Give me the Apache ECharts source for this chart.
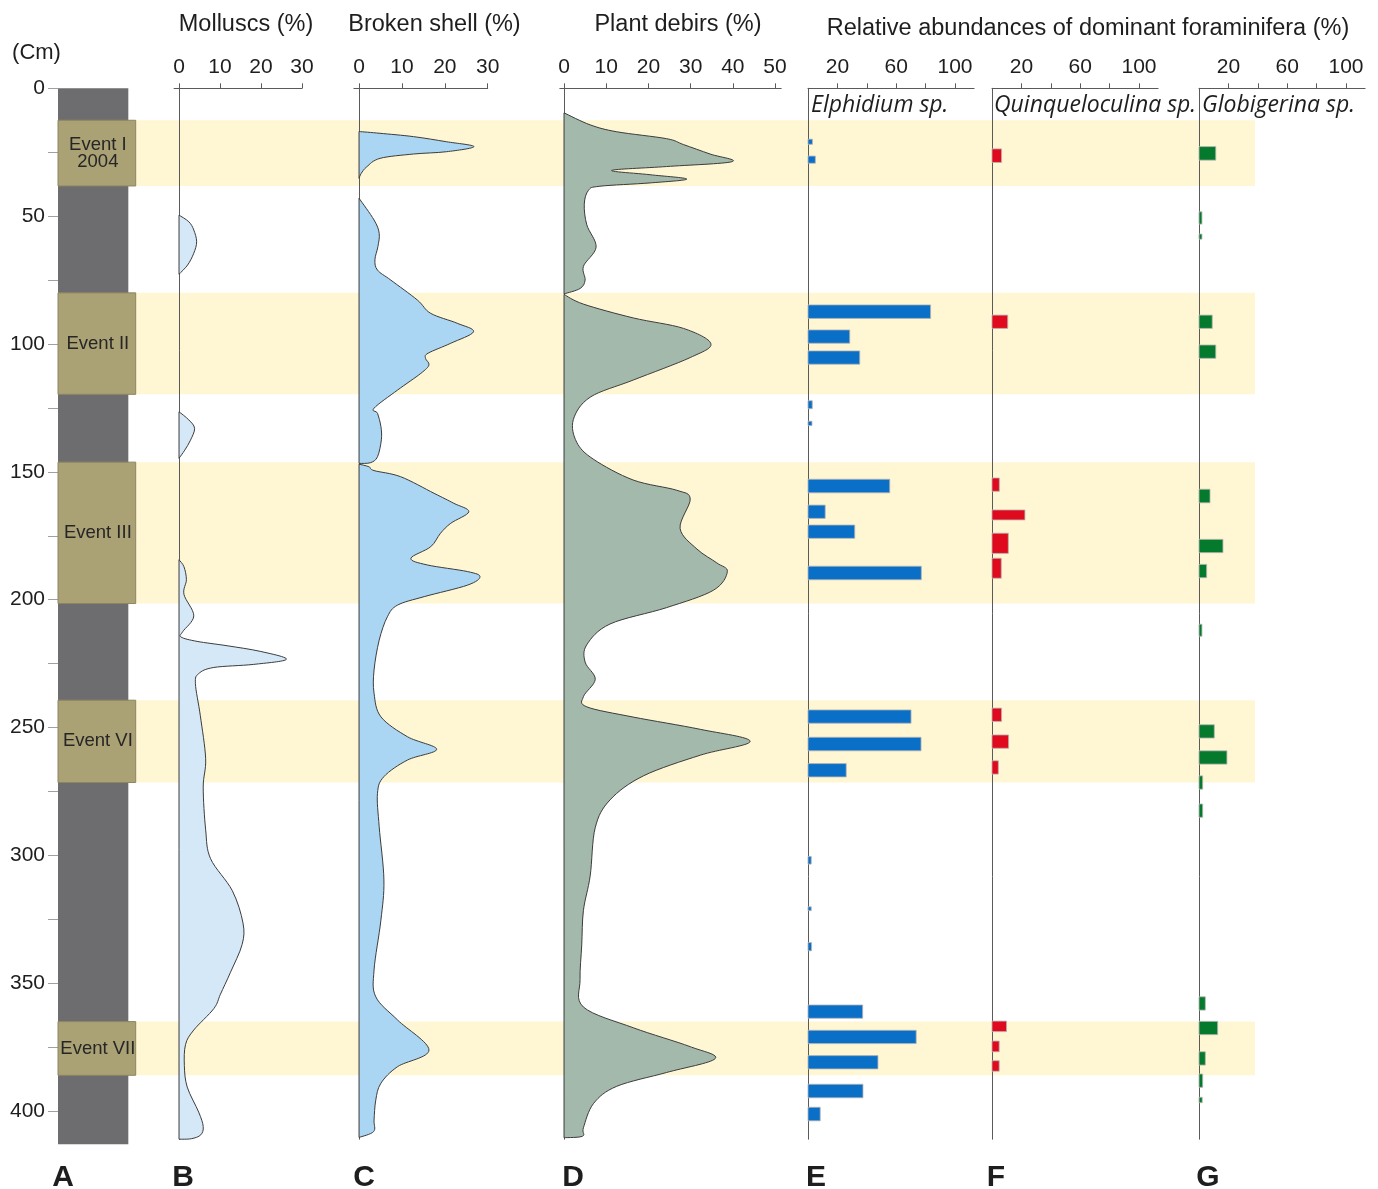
<!DOCTYPE html>
<html>
<head>
<meta charset="utf-8">
<script src="https://cdn.jsdelivr.net/npm/echarts@6/dist/echarts.min.js"></script>
<style>
  html, body { margin: 0; padding: 0; background: #fff; }
  #chart { width: 1378px; height: 1189px; }
</style>
</head>
<body>
<div id="chart"></div>
<script>
// ---- depth scale (cm) ----
const depthTicks = [0, 25, 50, 75, 100, 125, 150, 175, 200, 225, 250, 275, 300, 325, 350, 375, 400];
const depthLabels = [0, 50, 100, 150, 200, 250, 300, 350, 400];
const coreLength = 413;

// ---- event layers ----
const eventNames = ['Event I\n2004', 'Event II', 'Event III', 'Event VI', 'Event VII'];
const eventTop = [12.5, 80, 146.2, 239.3, 365];
const eventBottom = [38.2, 119.7, 201.5, 271.5, 386];

// ---- B: molluscs (%) profile, null separates lenses ----
const molluscsDepth = [
  49.6, 52.2, 55.4, 60, 64.5, 69.1, 72.7, null,
  126.5, 129.7, 133, 137.6, 141.5, 144.7, null,
  184.4, 187.1, 192.2, 197.9, 206.3, 212.5, 214.6, 216.3, 218, 220.2, 223.3, 225.3, 226.5, 228.9, 232.8,
  245.4, 262.2, 273.3, 290, 301.3, 313.8, 326.4, 334.8, 345.9, 354.3, 359.9, 368.3, 373.9, 382.2,
  390.6, 400.4, 406, 409.3, 410.8, 411
];
const molluscsValue = [
  0, 2.4, 3.6, 4.3, 3.6, 2.1, 0, null,
  0, 2.4, 3.8, 2.8, 1.4, 0, null,
  0, 1.2, 1.8, 1.2, 3.6, 0.9, 0.5, 4.4, 11.7, 19.8, 26.2, 18.2, 8.5, 4.8, 4.0,
  5.2, 6.5, 5.9, 6.5, 7.7, 13, 15.6, 15.4, 12.5, 10.1, 8.5, 3.6, 1.6, 1.3,
  2.0, 4.8, 5.9, 5.3, 3.0, 0
];

// ---- C: broken shell (%) ----
const brokenDepth = [
  16.9, 17.6, 18.9, 20.9, 22.8, 24.8, 25.7, 27.4, 30.7, 33.3, 35.2, null,
  43, 51.5, 56.7, 61.9, 67.1, 71.1, 75, 82.8, 88, 91.9, 95.2, 99.7, 103.6, 105.6, 108.2, 111.5, 118,
  125.1, 127.1, 132.3, 137.5, 144.1, 146.4, 146.7, null,
  147, 148, 149.5, 151.9, 158.4, 162.3, 165.6, 170.1, 174, 179.3, 183.8, 186.4, 189, 191, 194.3, 198.8,
  202.1, 206.7, 215.8, 227.5, 236.6, 245.8, 253.6, 258.5, 262.7, 269.2, 275.7, 288.8, 309.6, 325.3,
  344.8, 355.3, 364.4, 376.1, 382.6, 389.1, 395.7, 403.5, 408, 410.3
];
const brokenValue = [
  0, 4.9, 12.7, 20.4, 26.8, 20.4, 12.7, 4.9, 1.8, 0.5, 0, null,
  0, 3.5, 4.7, 4.4, 3.7, 4.3, 7.4, 13.6, 16.7, 22.9, 26.7, 21.4, 16.1, 15.5, 16.3, 14.4, 9,
  3.5, 4.3, 5.1, 5.2, 4.3, 2.7, 0, null,
  0, 2.3, 3.5, 9.7, 17.5, 22.1, 25.6, 21.4, 19, 16.7, 12.1, 15.9, 25.3, 28.2, 25.3, 15.2,
  9, 6.6, 4.7, 3.5, 3.5, 5.1, 11.3, 18.1, 11.3, 5.8, 4.3, 4.7, 5.8, 5.1,
  3.5, 3.9, 9, 16.3, 9, 5.1, 3.9, 3.5, 3.4, 0
];

// ---- D: plant debris (%) ----
const plantDepth = [
  9.6, 14.3, 17, 19.7, 22, 25.7, 28.7, 30.6, 32.1, 33.8, 35.5, 37, 38.3, 39.9, 45.3, 53.4, 62.1,
  69.6, 75, 78.3, 80.4, null,
  80.6, 84.4, 89.8, 93.9, 99.9, 105.3, 114.1, 120.8, 129.6, 138.4, 145.1, 153.2, 157.2, 160.6,
  172.1, 180.2, 185.6, 189, 196.3, 203.1, 209.5, 217.6, 224.4, 231.1, 237.9, 241.9, 245.9, 250.7,
  255.4, 260.8, 268.9, 278.3, 289.1, 308, 321.5, 335, 348.5, 359.3, 367.4, 374.8, 379.5, 384.9,
  390.3, 397, 406.5, 409.8, 410.4
];
const plantValue = [
  0, 6.2, 12.5, 24.3, 28.3, 34.6, 39.8, 24.3, 11.3, 20.4, 29.1, 20.4, 8.5, 5.8, 4.8, 5.4, 7.6,
  4.6, 5.0, 3.8, 0, null,
  0, 4.6, 16.4, 28.3, 34.8, 29.9, 16.4, 6.2, 2.2, 3.0, 7.0, 16.4, 26.7, 29.9,
  27.5, 31.5, 36.2, 38.7, 35.4, 24.3, 10.9, 5.4, 5.0, 7.4, 4.6, 5.4, 16.4, 32.3,
  44.1, 32.3, 18.8, 10.9, 7.4, 6.2, 4.6, 4.2, 3.8, 4.6, 16.4, 29.9, 35.8, 24.3,
  12.5, 7.0, 4.6, 4.4, 0
];

// ---- E–G: dominant foraminifera (%), one sample interval per bar ----
const elphidiumTop    = [19.9, 26.5, 84.7, 94.5, 102.7, 122.2, 130.2, 152.9, 163, 170.8, 186.9, 243.1, 253.8, 264.1, 300.4, 320.1, 334.1, 358.5, 368.4, 378.3, 389.5, 398.5];
const elphidiumBottom = [21.9, 29.3, 90, 99.7, 107.9, 125.3, 131.9, 158.2, 168.2, 176, 192.2, 248.3, 259.1, 269.3, 303.4, 321.6, 337.3, 363.7, 373.6, 383.5, 394.8, 403.8];
const elphidiumValue  = [3, 5, 83.4, 28.4, 35.2, 2.9, 2.7, 55.6, 11.7, 31.8, 77.1, 70.1, 76.9, 26, 2.2, 2.2, 2.4, 37.2, 73.6, 47.6, 37.4, 8.3];

const quinqTop    = [23.7, 88.7, 152.4, 164.9, 174, 183.8, 242.4, 252.9, 263, 364.8, 372.6, 380.3];
const quinqBottom = [29, 93.9, 157.6, 168.8, 181.9, 191.6, 247.6, 258.1, 268.2, 368.9, 376.8, 384.4];
const quinqValue  = [6.5, 10.7, 5, 22.4, 11.1, 6.3, 6.5, 11.3, 4.3, 9.9, 4.9, 4.9];

const globTop    = [22.8, 48.3, 57, 88.7, 100.4, 156.8, 176.4, 186.2, 209.6, 248.9, 259.1, 268.9, 279.9, 355.3, 364.9, 376.8, 385.5, 394.6];
const globBottom = [28.1, 53.1, 59, 93.9, 105.6, 162.1, 181.6, 191.4, 214.3, 254.1, 264.3, 274.1, 285.1, 360.5, 370.1, 382, 390.7, 396.7];
const globValue  = [11.4, 2, 2, 9, 11.4, 7.5, 16.3, 5.2, 2, 10.4, 19, 2.5, 2.5, 4.3, 12.7, 4.3, 2.5, 2.2];

const pctTicksSmall = [0, 10, 20, 30];
const pctTicksPlant = [0, 10, 20, 30, 40, 50];
const foramTicks = [20, 40, 60, 80, 100];
const foramLabels = [20, 60, 100];

// ---- layout ----
const TOP = 88.3;          // pixel row of depth 0
const PX_PER_CM = 2.557;
const FONT = '"Liberation Sans", Arial, sans-serif';
const AXIS_COLOR = '#5a5a5a';
const TEXT_COLOR = '#1e1e1e';

function gridAt(left, width, depthMax) {
  return { left: left, top: TOP, width: width, height: depthMax * PX_PER_CM, outerBoundsMode: 'none', containLabel: false };
}

const grids = [
  gridAt(58, 1197, coreLength),      // 0 event bands
  gridAt(58, 77.7, coreLength),      // 1 core column
  gridAt(174.1, 127.9, 411),         // 2 molluscs
  gridAt(353.9, 133.8, 411),         // 3 broken shell
  gridAt(559.8, 221.4, 411),         // 4 plant debris
  gridAt(808, 166.1, 411),           // 5 Elphidium
  gridAt(992, 166.1, 411),           // 6 Quinqueloculina
  gridAt(1199, 166.1, 411)           // 7 Globigerina
];

function hiddenX(i) {
  return { gridIndex: i, type: 'value', min: 0, max: 1, show: false };
}
function topAxis(i, min, max, ticks, labels) {
  return {
    gridIndex: i, type: 'value', position: 'top', min: min, max: max,
    axisLine: { show: true, onZero: false, lineStyle: { color: AXIS_COLOR, width: 1 } },
    axisTick: { show: true, customValues: ticks, length: 5, lineStyle: { color: AXIS_COLOR, width: 1 } },
    axisLabel: { show: true, customValues: labels, margin: 11, fontSize: 21, fontFamily: FONT, color: TEXT_COLOR },
    splitLine: { show: false }
  };
}
function depthAxis(i, max, visibleLine) {
  return {
    gridIndex: i, type: 'value', inverse: true, min: 0, max: max,
    axisLine: { show: visibleLine, onZero: true, lineStyle: { color: AXIS_COLOR, width: 1 } },
    axisTick: { show: false }, axisLabel: { show: false }, splitLine: { show: false }
  };
}

const xAxes = [
  hiddenX(0), hiddenX(1),
  topAxis(2, -1.2, 30, pctTicksSmall, pctTicksSmall),
  topAxis(3, -1.2, 30, pctTicksSmall, pctTicksSmall),
  topAxis(4, -1, 51.46, pctTicksPlant, pctTicksPlant),
  topAxis(5, 0, 113, foramTicks, foramLabels),
  topAxis(6, 0, 113, foramTicks, foramLabels),
  topAxis(7, 0, 113, foramTicks, foramLabels)
];

const yAxes = [
  depthAxis(0, coreLength, false),
  {
    gridIndex: 1, type: 'value', inverse: true, min: 0, max: coreLength,
    axisLine: { show: false },
    axisTick: { show: true, customValues: depthTicks, length: 10, lineStyle: { color: '#a0a0a0', width: 1 } },
    axisLabel: { show: true, customValues: depthLabels, margin: 13, fontSize: 21, fontFamily: FONT, color: TEXT_COLOR },
    splitLine: { show: false }
  },
  depthAxis(2, 411, true), depthAxis(3, 411, true), depthAxis(4, 411, true),
  depthAxis(5, 411, true), depthAxis(6, 411, true), depthAxis(7, 411, true)
];

// Catmull-Rom curve through pixel points, closed back along the zero line
function outlinePath(pts) {
  let d = 'M' + pts[0][0] + ',' + pts[0][1];
  for (let i = 0; i < pts.length - 1; i++) {
    const p0 = pts[i > 0 ? i - 1 : i];
    const p1 = pts[i];
    const p2 = pts[i + 1];
    const p3 = pts[i + 2 < pts.length ? i + 2 : i + 1];
    const c1x = p1[0] + (p2[0] - p0[0]) / 6, c1y = p1[1] + (p2[1] - p0[1]) / 6;
    const c2x = p2[0] - (p3[0] - p1[0]) / 6, c2y = p2[1] - (p3[1] - p1[1]) / 6;
    d += 'C' + c1x + ',' + c1y + ' ' + c2x + ',' + c2y + ' ' + p2[0] + ',' + p2[1];
  }
  return d + 'Z';
}

function profileSeries(axisIdx, depth, value, fill) {
  const segments = [];
  let cur = [];
  depth.forEach(function (d, i) {
    if (d == null || value[i] == null) {
      if (cur.length) segments.push(cur);
      cur = [];
    } else {
      cur.push([value[i], d]);
    }
  });
  if (cur.length) segments.push(cur);
  const points = [].concat.apply([], segments);
  return {
    type: 'custom', coordinateSystem: 'cartesian2d',
    xAxisIndex: axisIdx, yAxisIndex: axisIdx, z: 2,
    data: points, encode: { x: 0, y: 1 },
    silent: true,
    renderItem: function (params, api) {
      if (params.dataIndex !== 0) return null;
      return {
        type: 'group',
        children: segments.map(function (seg) {
          return {
            type: 'path',
            shape: { pathData: outlinePath(seg.map(function (p) { return api.coord(p); })) },
            style: { fill: fill, stroke: '#3c3c3c', lineWidth: 1 }
          };
        })
      };
    }
  };
}

function foramSeries(axisIdx, top, bottom, value, color) {
  return {
    type: 'custom', coordinateSystem: 'cartesian2d',
    xAxisIndex: axisIdx, yAxisIndex: axisIdx, z: 2, silent: true,
    data: value.map(function (v, i) { return [v, top[i], bottom[i]]; }),
    encode: { x: 0, y: [1, 2] },
    renderItem: function (params, api) {
      const a = api.coord([0, api.value(1)]);
      const b = api.coord([api.value(0), api.value(2)]);
      return {
        type: 'rect',
        shape: { x: a[0], y: a[1], width: b[0] - a[0], height: b[1] - a[1] },
        style: { fill: color, stroke: '#b4b4b4', lineWidth: 0.8 }
      };
    }
  };
}

const series = [
  // yellow event bands across all panels
  {
    type: 'custom', coordinateSystem: 'cartesian2d', xAxisIndex: 0, yAxisIndex: 0, z: -1, silent: true,
    data: eventTop.map(function (t, i) { return [t, eventBottom[i]]; }),
    encode: { y: [0, 1] },
    renderItem: function (params, api) {
      const a = api.coord([0, api.value(0)]);
      const b = api.coord([1, api.value(1)]);
      return { type: 'rect', shape: { x: a[0], y: a[1], width: b[0] - a[0], height: b[1] - a[1] },
               style: { fill: '#fff6d4' } };
    }
  },
  // core column
  {
    type: 'custom', coordinateSystem: 'cartesian2d', xAxisIndex: 1, yAxisIndex: 1, z: 1, silent: true,
    data: [[0, coreLength]], encode: { y: [0, 1] },
    renderItem: function (params, api) {
      const a = api.coord([0, api.value(0)]);
      const b = api.coord([0.905, api.value(1)]);
      return { type: 'rect', shape: { x: a[0], y: a[1], width: b[0] - a[0], height: b[1] - a[1] },
               style: { fill: '#6d6d70' } };
    }
  },
  // event boxes on the core
  {
    type: 'custom', coordinateSystem: 'cartesian2d', xAxisIndex: 1, yAxisIndex: 1, z: 3, silent: true,
    data: eventTop.map(function (t, i) { return [t, eventBottom[i], eventNames[i]]; }),
    encode: { y: [0, 1] },
    renderItem: function (params, api) {
      const a = api.coord([0, api.value(0)]);
      const b = api.coord([1, api.value(1)]);
      return {
        type: 'group',
        children: [
          { type: 'rect', shape: { x: a[0], y: a[1], width: b[0] - a[0], height: b[1] - a[1] },
            style: { fill: '#aaa174', stroke: '#8c8662', lineWidth: 1 } },
          { type: 'text', x: (a[0] + b[0]) / 2 + 1, y: (a[1] + b[1]) / 2,
            style: { text: eventNames[params.dataIndex], font: '18.5px ' + FONT, fill: '#262626',
                     align: 'center', verticalAlign: 'middle', lineHeight: 17 } }
        ]
      };
    }
  },
  profileSeries(2, molluscsDepth, molluscsValue, '#d5e8f8'),
  profileSeries(3, brokenDepth, brokenValue, '#aad6f3'),
  profileSeries(4, plantDepth, plantValue, '#a3b9ab'),
  foramSeries(5, elphidiumTop, elphidiumBottom, elphidiumValue, '#0a6fc7'),
  foramSeries(6, quinqTop, quinqBottom, quinqValue, '#df0a1e'),
  foramSeries(7, globTop, globBottom, globValue, '#067a2c')
];

function label(text, x, y, font, align) {
  return { type: 'text', x: x, y: y, z: 10, silent: true,
           style: { text: text, font: font, fill: TEXT_COLOR, align: align || 'center', verticalAlign: 'middle' } };
}
const titleFont = '23.5px ' + FONT;
const italicFont = 'italic 23px "Open Sans", "DejaVu Sans", sans-serif';
const letterFont = 'bold 30px ' + FONT;

const graphics = [
  label('(Cm)', 36.5, 53, '22px ' + FONT),
  label('Molluscs (%)', 246, 25, titleFont),
  label('Broken shell (%)', 434.5, 25, titleFont),
  label('Plant debirs (%)', 678, 25, titleFont),
  label('Relative abundances of dominant foraminifera (%)', 1088, 29, titleFont),
  label('Elphidium sp.', 811, 105, italicFont, 'left'),
  label('Quinqueloculina sp.', 994, 105, italicFont, 'left'),
  label('Globigerina sp.', 1202, 105, italicFont, 'left'),
  label('A', 63, 1178, letterFont),
  label('B', 183, 1178, letterFont),
  label('C', 364, 1178, letterFont),
  label('D', 573, 1178, letterFont),
  label('E', 816, 1178, letterFont),
  label('F', 996, 1178, letterFont),
  label('G', 1208, 1178, letterFont)
];

const chart = echarts.init(document.getElementById('chart'), null, { renderer: 'canvas', width: 1378, height: 1189 });
chart.setOption({
  animation: false,
  backgroundColor: '#ffffff',
  grid: grids,
  xAxis: xAxes,
  yAxis: yAxes,
  series: series,
  graphic: { elements: graphics }
});
</script>
</body>
</html>
